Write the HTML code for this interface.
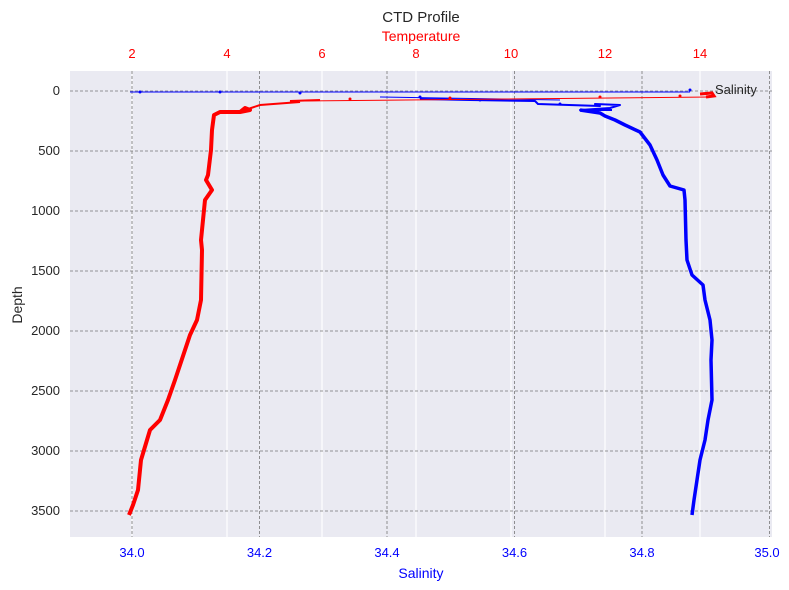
<!DOCTYPE html>
<html><head><style>body{margin:0;background:#fff}svg{display:block}text{font-family:"Liberation Sans",sans-serif}</style></head>
<body>
<svg width="789" height="590" xmlns="http://www.w3.org/2000/svg">
<rect x="70" y="71" width="702" height="466" fill="#eaeaf2"/>
<g stroke="#fff" stroke-width="1.2">
<line x1="132" y1="71" x2="132" y2="537"/><line x1="227" y1="71" x2="227" y2="537"/><line x1="322" y1="71" x2="322" y2="537"/><line x1="416" y1="71" x2="416" y2="537"/><line x1="511" y1="71" x2="511" y2="537"/><line x1="605" y1="71" x2="605" y2="537"/><line x1="700" y1="71" x2="700" y2="537"/>
</g>
<g stroke="#777" stroke-width="0.8" stroke-dasharray="3,2">
<line x1="132" y1="71" x2="132" y2="537"/><line x1="259.5" y1="71" x2="259.5" y2="537"/><line x1="387" y1="71" x2="387" y2="537"/><line x1="514.5" y1="71" x2="514.5" y2="537"/><line x1="642" y1="71" x2="642" y2="537"/><line x1="769.5" y1="71" x2="769.5" y2="537"/>
<line x1="70" y1="91" x2="772" y2="91"/><line x1="70" y1="151" x2="772" y2="151"/><line x1="70" y1="211" x2="772" y2="211"/><line x1="70" y1="271" x2="772" y2="271"/><line x1="70" y1="331" x2="772" y2="331"/><line x1="70" y1="391" x2="772" y2="391"/><line x1="70" y1="451" x2="772" y2="451"/><line x1="70" y1="511" x2="772" y2="511"/>
</g>
<polyline fill="none" stroke="#00f" stroke-width="1" points="130,92 690,92"/>
<polyline fill="none" stroke="#00f" stroke-width="1" points="380,97 560,100"/>
<polyline fill="none" stroke="#00f" stroke-width="2" stroke-linejoin="round" points="420,99 470,100 535,101 538,104 600,106 595,104 620,105 610,108 580,110 612,110"/>
<polyline fill="none" stroke="#00f" stroke-width="3.5" stroke-linejoin="round" points="580,110 600,113 605,116 615,120 625,125 640,132 650,145 657,160 663,175 670,186 684,190 685,200 686,240 687,260 692,275 703,285 705,300 710,320 712,340 711,360 712,400 708,420 705,440 700,460 697,480 694,500 692,515"/>
<g fill="#00f"><circle cx="140" cy="92" r="1.5"/><circle cx="220" cy="92" r="1.5"/><circle cx="300" cy="93" r="1.5"/><circle cx="420" cy="97" r="1.5"/><circle cx="480" cy="100" r="1.5"/><circle cx="690" cy="90" r="1.5"/><circle cx="560" cy="104" r="1.5"/></g>
<polyline fill="none" stroke="#f00" stroke-width="1" points="300,101 710,97"/>
<polyline fill="none" stroke="#f00" stroke-width="4" stroke-linejoin="round" points="129,515 133,505 138,490 141,460 150,430 160,420 168,400 175,380 180,365 185,350 190,335 197,320 201,300 202,250 201,240 205,200 212,190 206,180 208,175 211,150 212,130 214,115 220,112 240,112 245,108 250,110 240,112"/>
<polyline fill="none" stroke="#f00" stroke-width="2" points="245,110 260,105 300,102 290,101 320,100"/>
<polyline fill="none" stroke="#f00" stroke-width="3" points="700,94 712,93 714,96 706,97"/>
<g fill="#f00"><circle cx="350" cy="99" r="1.5"/><circle cx="450" cy="98" r="1.5"/><circle cx="600" cy="97" r="1.5"/><circle cx="680" cy="96" r="1.5"/></g>
<text x="715" y="94" font-size="13" fill="#262626">Salinity</text>
<text x="421" y="22" font-size="15" fill="#262626" text-anchor="middle">CTD Profile</text>
<text x="421" y="41" font-size="14" fill="#f00" text-anchor="middle">Temperature</text>
<g font-size="13" fill="#f00" text-anchor="middle">
<text x="132" y="58">2</text><text x="227" y="58">4</text><text x="322" y="58">6</text><text x="416" y="58">8</text><text x="511" y="58">10</text><text x="605" y="58">12</text><text x="700" y="58">14</text>
</g>
<g font-size="13" fill="#00f" text-anchor="middle">
<text x="132" y="557">34.0</text><text x="259.5" y="557">34.2</text><text x="387" y="557">34.4</text><text x="514.5" y="557">34.6</text><text x="642" y="557">34.8</text><text x="767" y="557">35.0</text>
</g>
<text x="421" y="578" font-size="14" fill="#00f" text-anchor="middle">Salinity</text>
<g font-size="13" fill="#262626" text-anchor="end">
<text x="60" y="95">0</text><text x="60" y="155">500</text><text x="60" y="215">1000</text><text x="60" y="275">1500</text><text x="60" y="335">2000</text><text x="60" y="395">2500</text><text x="60" y="455">3000</text><text x="60" y="515">3500</text>
</g>
<text transform="translate(22,305) rotate(-90)" font-size="14" fill="#262626" text-anchor="middle">Depth</text>
</svg>
</body></html>
